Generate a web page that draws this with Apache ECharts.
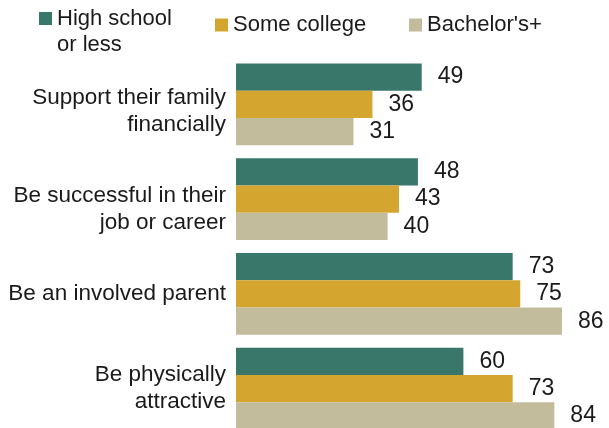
<!DOCTYPE html>
<html>
<head>
<meta charset="utf-8">
<script src="https://cdn.jsdelivr.net/npm/echarts@6/dist/echarts.min.js"></script>
<style>
  html, body { margin: 0; padding: 0; background: #fff; }
  #chart { width: 609px; height: 428px; }
</style>
</head>
<body>
<div id="chart"></div>
<script>
// Goals, grouped by education level (percent)
const categories = [
  'Support their family\nfinancially',
  'Be successful in their\njob or career',
  'Be an involved parent',
  'Be physically\nattractive'
];
const seriesNames = ['High school or less', 'Some college', "Bachelor's+"];
const highSchool = [49, 48, 73, 60];
const someCollege = [36, 43, 75, 73];
const bachelors = [31, 40, 86, 84];

const colors = ['#38776a', '#d4a62f', '#c2bb9c'];
const FONT = '"Liberation Sans", Arial, sans-serif';

// spacer line height (px) placed above some wrapped axis labels to nudge them down
const labelSpacer = ['s14', 's20', null, null];

const chart = echarts.init(document.getElementById('chart'), null, { renderer: 'canvas' });

function makeSeries(name, values, color) {
  return {
    name: name,
    type: 'bar',
    data: values,
    barGap: '0%',
    barCategoryGap: '13.5%',
    itemStyle: { color: color },
    label: {
      show: true,
      position: 'right',
      distance: 16,
      color: '#1a1a1a',
      fontFamily: FONT,
      fontSize: 23
    },
    emphasis: { disabled: true },
    animation: false
  };
}

function legendItem(name, left, top, text) {
  return {
    left: left,
    top: top,
    padding: 0,
    orient: 'horizontal',
    icon: 'rect',
    itemWidth: 13,
    itemHeight: 13,
    selectedMode: false,
    data: [name],
    formatter: function () { return text; },
    textStyle: {
      color: '#1a1a1a',
      fontFamily: FONT,
      fontSize: 22,
      lineHeight: 26
    }
  };
}

const labelText = { color: '#1a1a1a', fontFamily: FONT, fontSize: 22.5, lineHeight: 27, align: 'right' };

chart.setOption({
  backgroundColor: '#ffffff',
  color: colors,
  legend: [
    // leading blank line keeps the swatch beside the first line of the wrapped name
    legendItem(seriesNames[0], 39, -20.5, '\nHigh school\nor less'),
    legendItem(seriesNames[1], 215, 12, 'Some college'),
    legendItem(seriesNames[2], 409, 12, "Bachelor's+")
  ],
  grid: {
    left: 236,
    top: 57,
    width: 379,
    height: 379,
    containLabel: false,
    outerBoundsMode: 'none'
  },
  xAxis: {
    type: 'value',
    min: 0,
    max: 100,
    show: false
  },
  yAxis: {
    type: 'category',
    data: categories,
    inverse: true,
    axisLine: { show: false },
    axisTick: { show: false },
    axisLabel: {
      margin: 10,
      color: '#1a1a1a',
      fontFamily: FONT,
      fontSize: 22.5,
      lineHeight: 27,
      align: 'right',
      formatter: function (value, index) {
        const lines = value.split('\n').map(function (l) { return '{t|' + l + '}'; });
        const sp = labelSpacer[index];
        if (sp) lines.unshift('{' + sp + '| }');
        return lines.join('\n');
      },
      rich: {
        t: labelText,
        s14: { fontSize: 10, lineHeight: 14, height: 14, align: 'right' },
        s20: { fontSize: 10, lineHeight: 20, height: 20, align: 'right' }
      }
    }
  },
  series: [
    makeSeries(seriesNames[0], highSchool, colors[0]),
    makeSeries(seriesNames[1], someCollege, colors[1]),
    makeSeries(seriesNames[2], bachelors, colors[2])
  ]
});
</script>
</body>
</html>
